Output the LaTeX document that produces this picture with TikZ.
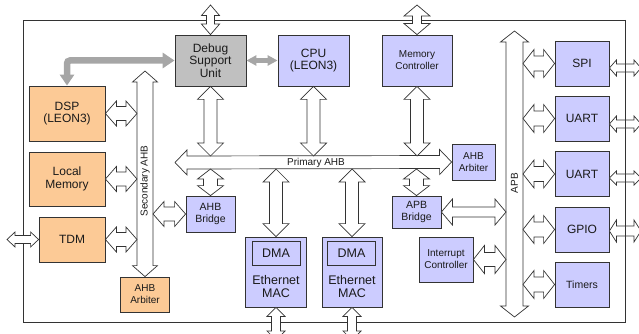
\documentclass[tikz,border=0pt]{standalone}
\usepackage{fontspec}
\setmainfont{Liberation Sans}
\usetikzlibrary{calc,arrows.meta}

\definecolor{lav}{HTML}{CCCCFF}
\definecolor{peach}{HTML}{FCCA96}
\definecolor{dsugray}{HTML}{C0C0C0}
\definecolor{linkgray}{HTML}{A6A6A6}
\definecolor{ink}{HTML}{333333}
\definecolor{txt}{HTML}{1A1A1A}

% Hollow double-headed block arrow between two points:
% #2 start, #3 end, #4 shaft half width, #5 head half width, #6 head length
\newcommand\blockarrow[6][]{%
  \draw[barrow,#1] let \p1=(#2), \p2=(#3),
      \n1={atan2((\y2)-(\y1),(\x2)-(\x1))},
      \n2={veclen((\x2)-(\x1),(\y2)-(\y1))} in
    [shift={(\x1,\y1)},rotate=\n1]
    (0,0) -- (#6,#5) -- (#6,#4) -- (\n2-#6,#4) -- (\n2-#6,#5) -- (\n2,0)
    -- (\n2-#6,-#5) -- (\n2-#6,-#4) -- (#6,-#4) -- (#6,-#5) -- cycle;}

\begin{document}
\begin{tikzpicture}[x=1pt,y=-1pt,
  box/.style={draw=ink, line width=0.8pt, text=txt, align=center, inner sep=0pt},
  wh/.style 2 args={minimum width=#1pt, minimum height=#2pt},
  big/.style={font=\fontsize{12}{12.5}\selectfont},
  mid/.style={font=\fontsize{10.5}{12}\selectfont},
  small/.style={font=\fontsize{10}{12}\selectfont},
  macfont/.style={font=\fontsize{12.5}{13}\selectfont},
  barrow/.style={draw=ink, fill=white, line width=0.7pt, line join=miter},
  grayarrow/.style={draw=linkgray, line width=#1},
  buslabel/.style={text=txt, inner sep=0pt, font=\fontsize{10}{11}\selectfont}]
\useasboundingbox (0,0) rectangle (639,334);

% outer frame
\draw[ink, line width=0.8pt] (23,20) rectangle (625,322);

% processor side
\node[box, fill=dsugray, wh={71}{51}, big] (dsu) at (210.5,60.5) {Debug\\Support\\Unit};
\node[box, fill=lav, wh={71}{51}, big] (cpu) at (313.5,60.5) {CPU\\(LEON3)};
\node[box, fill=lav, wh={70}{51}, small] (mem) at (417,60.5) {Memory\\Controller};

\node[box, fill=peach, wh={76}{55}, big] (dsp) at (67,113.5) {DSP\\(LEON3)};
\node[box, fill=peach, wh={76}{54}, big] (lmem) at (67,179) {Local\\Memory};
\node[box, fill=peach, wh={66}{45}, big] (tdm) at (72,239.5) {TDM};
\node[box, fill=peach, wh={49}{35}, small] (sarb) at (145,294.5) {AHB\\Arbiter};

\node[box, fill=lav, wh={43}{36}, small] (parb) at (473.5,162) {AHB\\Arbiter};
\node[box, fill=lav, wh={49}{36}, mid] (ahbb) at (210.5,214) {AHB\\Bridge};
\node[box, fill=lav, wh={49}{32}, mid] (apbb) at (416.5,212) {APB\\Bridge};
\node[box, fill=lav, wh={54}{45}, small] (intc) at (446,259.5) {Interrupt\\Controller};

% Ethernet MACs with their DMA engines
\node[box, fill=lav, wh={61}{70}] (mac1) at (276,272) {};
\node[box, fill=lav, wh={48}{24}, macfont] (dma1) at (276,253.5) {DMA};
\node[text=txt, align=center, inner sep=0pt, macfont] (eth1) at (276,286.5) {Ethernet\\MAC};
\node[box, fill=lav, wh={60}{70}] (mac2) at (352,272) {};
\node[box, fill=lav, wh={48}{24}, macfont] (dma2) at (351.5,253.5) {DMA};
\node[text=txt, align=center, inner sep=0pt, macfont] (eth2) at (352,286.5) {Ethernet\\MAC};

% peripherals
\node[box, fill=lav, wh={54}{45}, big] (spi) at (582,63.5) {SPI};
\node[box, fill=lav, wh={54}{45}, big] (uart1) at (582,118.5) {UART};
\node[box, fill=lav, wh={54}{45}, big] (uart2) at (582,174) {UART};
\node[box, fill=lav, wh={54}{45}, big] (gpio) at (582,229.5) {GPIO};
\node[box, fill=lav, wh={54}{45}, mid] (timers) at (582,284.5) {Timers};

% bus geometry
\coordinate (pahbL) at (175,162.5);
\coordinate (pahbT) at (0,156);
\coordinate (pahbB) at (0,169);
\coordinate (sahbT) at (145,71);
\coordinate (sahbL) at (137,0);
\coordinate (sahbR) at (153,0);
\coordinate (apbT) at (514.5,31);
\coordinate (apbB) at (514.5,317);
\coordinate (apbL) at (506,0);
\coordinate (apbR) at (523,0);

% external ends
\coordinate (dsuout) at (210.5,5);
\coordinate (memout) at (417,5);
\coordinate (tdmout) at (7,239.5);
\coordinate (m1out) at (276,340);
\coordinate (m2out) at (352,340);
\coordinate (o1) at (641,68);
\coordinate (o2) at (641,124);
\coordinate (o3) at (641,178);
\coordinate (o4) at (641,231);

% buses
\blockarrow{pahbL}{parb.west}{6.5}{12.5}{12}
\blockarrow{sahbT}{sarb.north}{8}{12.5}{11}
\blockarrow{apbT}{apbB}{8.5}{14}{11}
\node[buslabel] (plabel) at (316,162.5) {Primary AHB};
\node[buslabel, rotate=90] (slabel) at (145,181) {Secondary AHB};
\node[buslabel, rotate=90] (alabel) at (514.5,183) {APB};

% external connections
\blockarrow{dsuout}{dsu.north}{4}{9}{10.5}
\blockarrow{memout}{mem.north}{4.5}{13}{11}
\blockarrow{tdmout}{tdm.west}{4}{7.5}{8}
\blockarrow{mac1.south}{m1out}{4.5}{9}{9}
\blockarrow{mac2.south}{m2out}{4.5}{9}{9}

% primary AHB attachments
\blockarrow{dsu.south}{dsu.south |- pahbT}{6.5}{13}{13}
\blockarrow{cpu.south}{cpu.south |- pahbT}{6.5}{13}{13}
\blockarrow{mem.south}{mem.south |- pahbT}{6.5}{13}{13}
\blockarrow{ahbb.north}{ahbb.north |- pahbB}{7}{13}{10}
\blockarrow{apbb.north}{apbb.north |- pahbB}{7}{13}{10}
\blockarrow{mac1.north}{mac1.north |- pahbB}{6.5}{13}{13}
\blockarrow{mac2.north}{mac2.north |- pahbB}{6.5}{13}{13}

% secondary AHB attachments
\blockarrow{dsp.east}{dsp.east -| sahbL}{7}{12.5}{11}
\blockarrow{lmem.east}{lmem.east -| sahbL}{7}{12.5}{11}
\blockarrow{tdm.east}{tdm.east -| sahbL}{7}{12.5}{11}
\blockarrow{ahbb.west -| sahbR}{ahbb.west}{7}{12.5}{11}

% APB attachments
\blockarrow{apbb.east}{apbb.east -| apbL}{5}{13}{11}
\blockarrow{intc.east}{intc.east -| apbL}{7}{14}{11}
\blockarrow{spi.west -| apbR}{spi.west}{7.5}{14}{11}
\blockarrow{uart1.west -| apbR}{uart1.west}{7.5}{14}{11}
\blockarrow{uart2.west -| apbR}{uart2.west}{7.5}{14}{11}
\blockarrow{gpio.west -| apbR}{gpio.west}{7.5}{14}{11}
\blockarrow{timers.west -| apbR}{timers.west}{7.5}{14}{11}

% peripheral pins
\blockarrow{spi.east |- o1}{o1}{4}{8}{7}
\blockarrow{uart1.east |- o2}{o2}{4}{8}{7}
\blockarrow{uart2.east |- o3}{o3}{4}{7}{7}
\blockarrow{gpio.east |- o4}{o4}{5}{11}{7}
\draw[ink, line width=0.8pt] (625,20) -- (625,322);

% debug links
\draw[grayarrow=6.5pt, rounded corners=3pt,
  {Triangle[width=14pt,length=11pt]}-{Triangle[width=15pt,length=12pt]}]
  (dsp.north) |- (dsu.west);
\draw[grayarrow=4.5pt,
  {Triangle[width=10pt,length=10pt]}-{Triangle[width=10pt,length=10pt]}]
  (dsu.east) -- (cpu.west);
\end{tikzpicture}
\end{document}
